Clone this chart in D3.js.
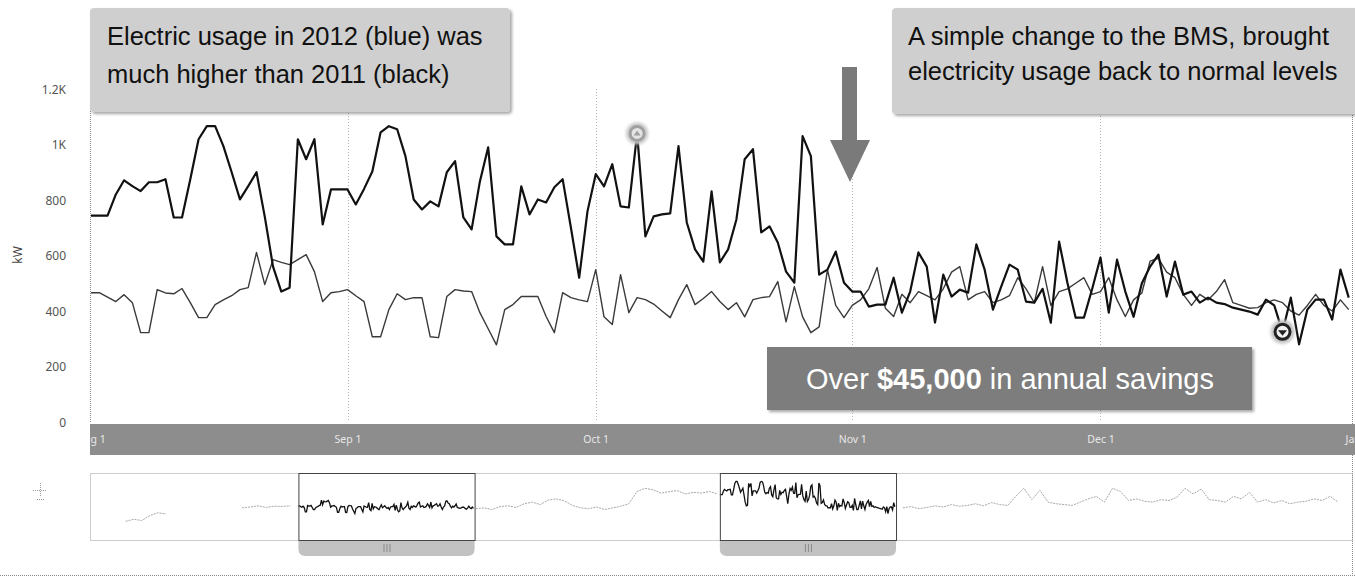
<!DOCTYPE html>
<html>
<head>
<meta charset="utf-8">
<script src="https://cdn.jsdelivr.net/npm/d3@7"></script>
<style>
  body { margin: 0; background: #fff; }
  svg { display: block; }
</style>
</head>
<body>
<svg id="chart" width="1355" height="581"></svg>
<script>
// ---- Data -----------------------------------------------------------------
// Daily electricity demand (kW), Aug 1 – Dec 31.
const startDate = "2012-08-01";

const usage2012 = [
  744, 744, 744, 820, 871, 850, 832, 864, 864, 875,
  737, 737, 875, 1019, 1066, 1066, 994, 900, 802, 850,
  900, 740, 560, 470, 484, 1019, 947, 1019, 712, 838,
  838, 838, 784, 840, 903, 1044, 1066, 1055, 958, 802,
  766, 795, 777, 900, 940, 737, 694, 867, 990, 669,
  640, 640, 849, 748, 802, 791, 846, 875, 700, 520,
  759, 893, 849, 929, 777, 773, 1040, 669, 741, 748,
  752, 994, 719, 622, 578, 831, 575, 622, 730, 947,
  983, 683, 705, 647, 542, 502, 1030, 958, 531, 549,
  614, 502, 470, 470, 416, 423, 423, 520, 394, 470,
  611, 560, 358, 531, 452, 477, 466, 640, 549, 405,
  488, 567, 549, 434, 430, 480, 358, 650, 502, 376,
  376, 480, 593, 394, 585, 470, 379, 500, 560, 603,
  452, 578, 459, 470, 430, 448, 430, 425, 412, 405,
  398, 387, 441, 420, 325, 448, 280, 405, 441, 441,
  369, 549, 448
];

const usage2011 = [
  466, 466, 450, 434, 459, 430, 322, 322, 477, 465,
  462, 481, 430, 376, 376, 423, 440, 455, 477, 484,
  611, 495, 585, 575, 567, 585, 603, 542, 434, 466,
  470, 477, 455, 434, 307, 307, 405, 462, 441, 448,
  448, 307, 304, 452, 477, 472, 470, 394, 336, 278,
  405, 423, 452, 452, 452, 380, 322, 466, 448, 440,
  434, 549, 379, 351, 531, 394, 448, 441, 425, 400,
  376, 441, 495, 423, 445, 470, 434, 405, 430, 379,
  441, 448, 452, 506, 361, 488, 379, 322, 343, 549,
  420, 376, 420, 440, 480, 557, 410, 380, 460, 430,
  470, 455, 440, 480, 540, 560, 440, 460, 470, 430,
  440, 455, 520, 480, 430, 560, 420, 470, 480, 500,
  520, 460, 470, 520, 440, 380, 440, 465, 580, 590,
  540, 520, 460, 420, 460, 440, 470, 513, 430, 420,
  410, 412, 430, 440, 430, 400, 385, 420, 460, 420,
  400, 440, 405
];

// Flagged points on the 2012 series: [day index, kind]
const flaggedDays = [[66, "high"], [144, "low"]];

const yTicks = [0, 200, 400, 600, 800, 1000, 1200];
const yTickLabels = ["0", "200", "400", "600", "800", "1K", "1.2K"];
const xTickDates = ["2012-08-01", "2012-09-01", "2012-10-01", "2012-11-01", "2012-12-01", "2013-01-01"];
const xTickLabels = ["Aug 1", "Sep 1", "Oct 1", "Nov 1", "Dec 1", "Jan 1"];

// Navigator overview series (weekly readings outside the two compared periods)
const navEarlyStart = "2011-03-04";
const navEarly = [90, 140, 110, 230, 300, 270];
const navLateSpringStart = "2011-06-13";
const navLateSpring = [420, 440, 470, 430, 460, 455, 470];
const navMidStart = "2012-01-02";
const navMid = [400, 420, 380, 450, 470, 430, 520, 560, 500, 610, 640, 590, 480, 420, 400,
  440, 380, 420, 460, 520, 820, 900, 860, 780, 820, 840, 760, 800, 780, 820, 760];
const navPostStart = "2013-01-07";
const navPost = [420, 450, 400, 430, 470, 440, 500, 460, 480, 520, 470, 550, 500, 480, 700,
  900, 620, 850, 560, 520, 500, 480, 560, 640, 700, 560, 900, 820, 600, 640, 580, 560, 620,
  600, 680, 900, 760, 880, 620, 600, 560, 700, 640, 800, 560, 620, 540, 600, 520, 560, 580,
  640, 600, 700, 560];
const navWindows = [["2011-08-01", "2012-01-01"], ["2012-08-01", "2013-01-01"]];

// ---- Setup ----------------------------------------------------------------
const parse = d3.utcParse("%Y-%m-%d");
const svg = d3.select("#chart");
const FONT = "'Liberation Sans', Arial, sans-serif";
const UI_FONT = "'Noto Sans', 'DejaVu Sans', sans-serif";

const plot = { left: 90, right: 1352, top: 89, bottom: 422 };

const x = d3.scaleUtc()
  .domain([parse(xTickDates[0]), parse(xTickDates[xTickDates.length - 1])])
  .range([91, 1357]);
const y = d3.scaleLinear().domain([0, 1200]).range([plot.bottom, plot.top]);

const dayAt = (start, i, step = 1) => d3.utcDay.offset(parse(start), i * step);
const series2012 = usage2012.map((v, i) => ({ date: dayAt(startDate, i), value: v }));
const series2011 = usage2011.map((v, i) => ({ date: dayAt(startDate, i), value: v }));

const defs = svg.append("defs");
const shadow = defs.append("filter").attr("id", "shadow")
  .attr("x", "-5%").attr("y", "-10%").attr("width", "115%").attr("height", "130%");
shadow.append("feDropShadow").attr("dx", 2).attr("dy", 2).attr("stdDeviation", 1.5)
  .attr("flood-color", "#000").attr("flood-opacity", 0.35);
const halo = defs.append("filter").attr("id", "halo")
  .attr("x", "-60%").attr("y", "-60%").attr("width", "220%").attr("height", "220%");
halo.append("feGaussianBlur").attr("stdDeviation", 1.5);

// ---- Plot frame & grid ----------------------------------------------------
const grid = svg.append("g");
grid.selectAll("line.v")
  .data(xTickDates.map(parse).filter(d => x(d) > plot.left + 2 && x(d) < plot.right - 2))
  .join("line")
  .attr("x1", d => Math.round(x(d)) + 0.5).attr("x2", d => Math.round(x(d)) + 0.5)
  .attr("y1", plot.top).attr("y2", plot.bottom)
  .attr("stroke", "#b5b5b5").attr("stroke-dasharray", "1,2");

[plot.left, plot.right].forEach(px => {
  grid.append("line")
    .attr("x1", px + 0.5).attr("x2", px + 0.5)
    .attr("y1", plot.top).attr("y2", px === plot.right ? 575 : plot.bottom)
    .attr("stroke", "#8a8a8a").attr("stroke-dasharray", "1,1");
});

// ---- Y axis ---------------------------------------------------------------
const yAxis = d3.axisLeft(y).tickValues(yTicks)
  .tickFormat((d, i) => yTickLabels[i]).tickSize(0).tickPadding(0);
const yg = svg.append("g").attr("transform", "translate(66,0)").call(yAxis);
yg.select(".domain").remove();
yg.selectAll("text")
  .attr("font-family", UI_FONT).attr("font-size", 12).attr("fill", "#555")
  .attr("text-anchor", "end").attr("dy", "0.35em");

svg.append("text")
  .attr("transform", "translate(22,255) rotate(-90)")
  .attr("text-anchor", "middle")
  .attr("font-family", UI_FONT).attr("font-size", 12).attr("fill", "#444")
  .text("kW");

// ---- Lines ----------------------------------------------------------------
const line = d3.line().x(d => x(d.date)).y(d => y(d.value));

svg.append("path").datum(series2011)
  .attr("d", line).attr("fill", "none")
  .attr("stroke", "#3a3a3a").attr("stroke-width", 1.4).attr("stroke-linejoin", "round");

svg.append("path").datum(series2012)
  .attr("d", line).attr("fill", "none")
  .attr("stroke", "#111").attr("stroke-width", 2.2).attr("stroke-linejoin", "round");

// ---- Flag markers ---------------------------------------------------------
flaggedDays.forEach(([i, kind]) => {
  const cx = x(series2012[i].date), cy = y(series2012[i].value);
  const g = svg.append("g").attr("transform", `translate(${cx},${cy})`);
  if (kind === "high") {
    g.append("circle").attr("r", 11).attr("fill", "#c8c8c8").attr("filter", "url(#halo)");
    g.append("circle").attr("r", 7).attr("fill", "#e4e4e4").attr("stroke", "#a0a0a0").attr("stroke-width", 3);
    g.append("path").attr("d", "M-3.5,2L0,-3L3.5,2Z").attr("fill", "#a0a0a0");
  } else {
    g.append("circle").attr("r", 12).attr("fill", "#c4c4c4").attr("filter", "url(#halo)");
    g.append("circle").attr("r", 7.5).attr("fill", "#f2f2f2").attr("stroke", "#222").attr("stroke-width", 3);
    g.append("path").attr("d", "M-4.5,-1.5L4.5,-1.5L0,4Z").attr("fill", "#222");
  }
});

// ---- X axis band ----------------------------------------------------------
const band = { x: 90, y: 424, w: 1265, h: 31 };
defs.append("clipPath").attr("id", "bandClip")
  .append("rect").attr("x", band.x).attr("y", band.y).attr("width", band.w).attr("height", band.h);
svg.append("rect")
  .attr("x", band.x).attr("y", band.y).attr("width", band.w).attr("height", band.h)
  .attr("fill", "#8d8d8d");
const xAxis = d3.axisBottom(x)
  .tickValues(xTickDates.map(parse))
  .tickFormat((d, i) => xTickLabels[i]).tickSize(0).tickPadding(0);
const xg = svg.append("g").attr("clip-path", "url(#bandClip)")
  .append("g").attr("transform", `translate(0,${band.y + 19})`).call(xAxis);
xg.select(".domain").remove();
xg.selectAll("text")
  .attr("font-family", UI_FONT).attr("font-size", 10.5).attr("fill", "#e8e8e8").attr("dy", 0);

// ---- Navigator ------------------------------------------------------------
const nav = { left: 90, right: 1352, top: 473, bottom: 540 };
const navX = d3.scaleUtc().domain([parse("2011-02-01"), parse("2014-02-01")]).range([nav.left, nav.right]);
const navY = d3.scaleLinear().domain([0, 1200]).range([525, 476]);
const navLine = d3.line().x(d => navX(d.date)).y(d => navY(d.value));
const weekly = (start, arr) => arr.map((v, i) => ({ date: dayAt(start, i, 7), value: v }));

svg.append("rect")
  .attr("x", nav.left + 0.5).attr("y", nav.top + 0.5)
  .attr("width", nav.right - nav.left).attr("height", nav.bottom - nav.top)
  .attr("fill", "none").attr("stroke", "#9a9a9a").attr("stroke-dasharray", "1,1");

[navEarly, navLateSpring, navMid, navPost].forEach((arr, k) => {
  const start = [navEarlyStart, navLateSpringStart, navMidStart, navPostStart][k];
  svg.append("path").datum(weekly(start, arr))
    .attr("d", navLine).attr("fill", "none")
    .attr("stroke", "#a8a8a8").attr("stroke-width", 1).attr("stroke-dasharray", "2,1");
});

const navSeries = [
  usage2011.map((v, i) => ({ date: dayAt(navWindows[0][0], i), value: v })),
  usage2012.map((v, i) => ({ date: dayAt(navWindows[1][0], i), value: v }))
];
navSeries.forEach(s => {
  svg.append("path").datum(s).attr("d", navLine).attr("fill", "none")
    .attr("stroke", "#111").attr("stroke-width", 1.3);
});

navWindows.forEach(([a, b]) => {
  const x0 = navX(parse(a)), x1 = navX(parse(b));
  svg.append("rect")
    .attr("x", x0 + 0.5).attr("y", nav.top + 0.5)
    .attr("width", x1 - x0).attr("height", nav.bottom - nav.top)
    .attr("fill", "none").attr("stroke", "#444");
  const r = 7, t = nav.bottom + 1, bt = nav.bottom + 16;
  svg.append("path")
    .attr("d", `M${x0},${t}H${x1}V${bt - r}Q${x1},${bt} ${x1 - r},${bt}H${x0 + r}Q${x0},${bt} ${x0},${bt - r}Z`)
    .attr("fill", "#c2c2c2");
  const mid = (x0 + x1) / 2;
  [-3, 0, 3].forEach(dx => {
    svg.append("line")
      .attr("x1", mid + dx + 0.5).attr("x2", mid + dx + 0.5)
      .attr("y1", t + 3).attr("y2", bt - 4)
      .attr("stroke", "#8a8a8a");
  });
});

// crosshair tool icon
const ico = svg.append("g").attr("transform", "translate(40,490)")
  .attr("stroke", "#999").attr("stroke-dasharray", "1,1");
ico.append("line").attr("x1", -7).attr("x2", 7).attr("y1", 0.5).attr("y2", 0.5);
ico.append("line").attr("x1", 0.5).attr("x2", 0.5).attr("y1", -7).attr("y2", 7);
ico.append("line").attr("x1", -3).attr("x2", 4).attr("y1", 9.5).attr("y2", 9.5);

// bottom rule
svg.append("line")
  .attr("x1", 0).attr("x2", 1355).attr("y1", 575.5).attr("y2", 575.5)
  .attr("stroke", "#8a8a8a").attr("stroke-dasharray", "1,1");

// ---- Annotations ----------------------------------------------------------
function callout(x0, y0, w, h, lines, tx, baselines) {
  const g = svg.append("g");
  g.append("rect").attr("x", x0).attr("y", y0).attr("width", w).attr("height", h)
    .attr("rx", 4).attr("fill", "#cfcfcf").attr("filter", "url(#shadow)");
  lines.forEach((t, i) => {
    g.append("text").attr("x", tx).attr("y", baselines[i])
      .attr("font-family", FONT).attr("font-size", 25.5).attr("fill", "#111").text(t);
  });
}
callout(90, 8, 420, 104,
  ["Electric usage in 2012 (blue) was", "much higher than 2011 (black)"], 107, [45, 83]);
callout(892, 8, 470, 106,
  ["A simple change to the BMS, brought", "electricity usage back to normal levels"], 908, [45, 80]);

// downward arrow pointing at the change
svg.append("path")
  .attr("d", "M842,67H857V140H870L850,182L830,140H842Z")
  .attr("fill", "#7a7a7a");

// savings banner
const sav = svg.append("g");
sav.append("rect").attr("x", 767).attr("y", 347).attr("width", 485).attr("height", 63)
  .attr("fill", "#7d7d7d").attr("filter", "url(#shadow)");
const st = sav.append("text").attr("x", 1010).attr("y", 389).attr("text-anchor", "middle")
  .attr("font-family", FONT).attr("font-size", 29).attr("fill", "#fff");
st.append("tspan").text("Over ");
st.append("tspan").attr("font-weight", "bold").text("$45,000");
st.append("tspan").text(" in annual savings");
</script>
</body>
</html>
